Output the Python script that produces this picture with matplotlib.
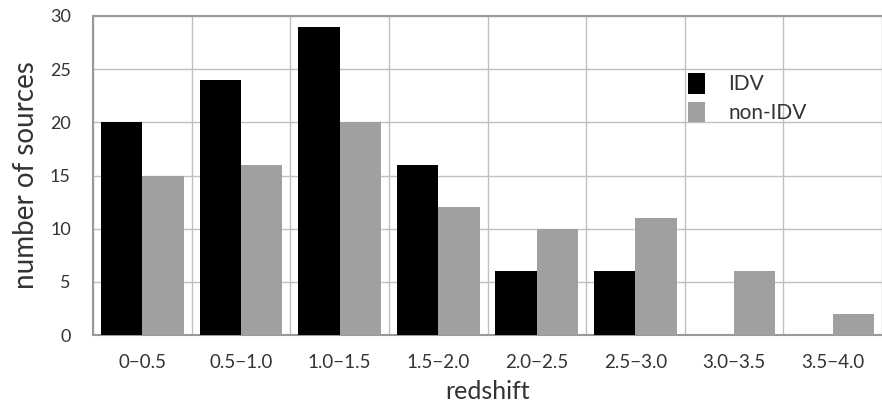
import numpy as np
import matplotlib.pyplot as plt

plt.rcParams['font.family'] = ['Lato', 'DejaVu Sans']

bins = ['0\u22120.5', '0.5\u22121.0', '1.0\u22121.5', '1.5\u22122.0',
        '2.0\u22122.5', '2.5\u22123.0', '3.0\u22123.5', '3.5\u22124.0']
idv = [20, 24, 29, 16, 6, 6, 0, 0]
non_idv = [15, 16, 20, 12, 10, 11, 6, 2]


def main():
    fig = plt.figure(figsize=(8.82, 4.09), dpi=100)
    W, H = 882, 409
    ax = fig.add_axes([93 / W, 1 - 335 / H, (882 - 93) / W, (335 - 16) / H])

    x = np.arange(len(bins))
    w = 0.42
    ax.bar(x - w / 2, idv, width=w, color='black', label='IDV', zorder=3)
    ax.bar(x + w / 2, non_idv, width=w, color='#a0a0a0', label='non-IDV', zorder=3)

    ax.set_xlim(-0.5, 7.41)
    ax.set_ylim(0, 30)
    ax.set_yticks(range(0, 31, 5))
    ax.set_xticks(x)
    ax.set_xticklabels(bins)
    ax.set_xticks(np.arange(-0.5, 8, 1), minor=True)

    ax.grid(True, which='major', axis='y', color='#c0c0c0', lw=1, zorder=0)
    ax.grid(True, which='minor', axis='x', color='#c0c0c0', lw=1, zorder=0)
    ax.tick_params(which='both', length=0)
    ax.tick_params(axis='x', labelsize=13.5, pad=14, colors='#333333')
    ax.tick_params(axis='y', labelsize=13, pad=16, colors='#333333')
    for s in ax.spines.values():
        s.set_color('#999999')
        s.set_linewidth(1.5)
    ax.spines['right'].set_visible(False)

    ax.set_xlabel('redshift', fontsize=18, color='#333333', labelpad=6)
    ax.set_ylabel('number of sources', fontsize=20, color='#333333', labelpad=8)

    ax.legend(loc='upper left', bbox_to_anchor=(0.73, 0.88), frameon=False,
              fontsize=15, handlelength=0.85, handleheight=1.15,
              handletextpad=1.1, labelspacing=0.35, labelcolor='#333333')

    fig.savefig('out.png', dpi=100)


if __name__ == '__main__':
    main()
